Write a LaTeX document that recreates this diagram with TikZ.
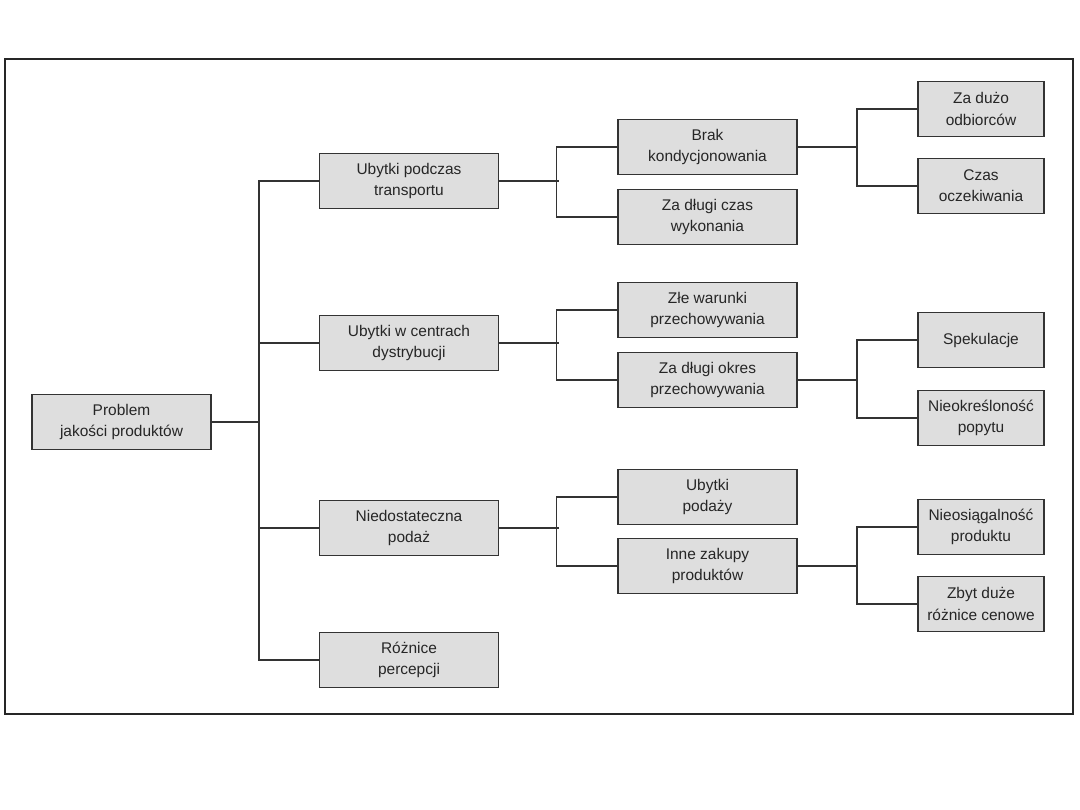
\documentclass[tikz,border=0pt]{standalone}
\usepackage{fontspec}
\setmainfont{Liberation Sans}
\begin{document}
\begin{tikzpicture}[
      x=0.025cm, y=-0.025cm,
      every node/.style={font=\fontsize{11}{15}\selectfont, text=black!85},
      box/.style={draw=black!80, line width=1pt, fill=black!13, align=center,
                  minimum width=4.475cm, minimum height=1.375cm, inner sep=0pt},
      leaf/.style={box, minimum width=3.15cm},
      link/.style={draw=black!80, line width=0.8pt},
    ]
    \useasboundingbox (0,0) rectangle (1080,810);
    \draw[line width=2pt, black!85] (5,59) rectangle (1073,714);

    % --- root ---
    \node[box] (root) at (121.5,422) {Problem\\jakości produktów};
    \coordinate (trunk) at (259,422);

    % --- first level ---
    \node[box] (t1) at (409,181) {Ubytki podczas\\transportu};
    \node[box] (t2) at (409,343) {Ubytki w centrach\\dystrybucji};
    \node[box] (t3) at (409,528) {Niedostateczna\\podaż};
    \node[box] (t4) at (409,660) {Różnice\\percepcji};

    \draw[link] (root.east) -- (trunk);
    \draw[link] (t1.west) -| (trunk) |- (t4.west);
    \draw[link] (trunk |- t2.west) -- (t2.west);
    \draw[link] (trunk |- t3.west) -- (t3.west);

    % --- second level ---
    \node[box] (b1) at (707.5,147) {Brak\\kondycjonowania};
    \node[box] (b2) at (707.5,217) {Za długi czas\\wykonania};
    \node[box] (b3) at (707.5,310) {Złe warunki\\przechowywania};
    \node[box] (b4) at (707.5,380) {Za długi okres\\przechowywania};
    \node[box] (b5) at (707.5,497) {Ubytki\\podaży};
    \node[box] (b6) at (707.5,566) {Inne zakupy\\produktów};

    \coordinate (j1) at (559,181);
    \coordinate (j2) at (559,343);
    \coordinate (j3) at (559,528);
    \draw[link] (t1.east) -- (j1);
    \draw[link] (t2.east) -- (j2);
    \draw[link] (t3.east) -- (j3);
    \draw[link] (b1.west) -| ([xshift=-2]j1) |- (b2.west);
    \draw[link] (b3.west) -| ([xshift=-2]j2) |- (b4.west);
    \draw[link] (b5.west) -| ([xshift=-2]j3) |- (b6.west);

    % --- third level ---
    \node[leaf] (c1) at (981,109) {Za dużo\\odbiorców};
    \node[leaf] (c2) at (981,186) {Czas\\oczekiwania};
    \node[leaf] (c3) at (981,340) {Spekulacje};
    \node[leaf] (c4) at (981,418) {Nieokreśloność\\popytu};
    \node[leaf] (c5) at (981,527) {Nieosiągalność\\produktu};
    \node[leaf] (c6) at (981,604) {Zbyt duże\\różnice cenowe};

    \coordinate (k1) at (857,147);
    \coordinate (k2) at (857,380);
    \coordinate (k3) at (857,566);
    \draw[link] (b1.east) -- (k1);
    \draw[link] (b4.east) -- (k2);
    \draw[link] (b6.east) -- (k3);
    \draw[link] (c1.west) -| (k1) |- (c2.west);
    \draw[link] (c3.west) -| (k2) |- (c4.west);
    \draw[link] (c5.west) -| (k3) |- (c6.west);
  \end{tikzpicture}
\end{document}
